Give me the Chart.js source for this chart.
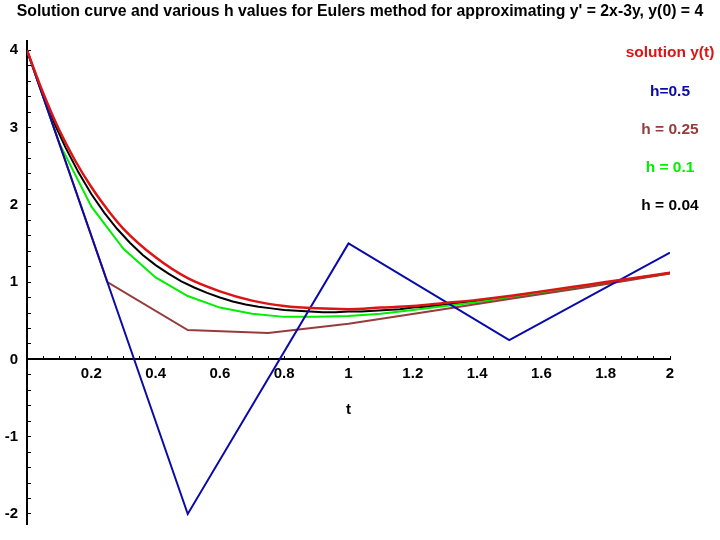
<!DOCTYPE html>
<html>
<head>
<meta charset="utf-8">
<script src="https://cdn.jsdelivr.net/npm/chart.js@4/dist/chart.umd.min.js"></script>
<style>
  html, body { margin: 0; padding: 0; background: #fff; }
  #wrap { width: 720px; height: 540px; }
</style>
</head>
<body>
<div id="wrap"><canvas id="myChart" width="720" height="540"></canvas></div>
<script>
"use strict"

// exact solution y(t)
let solT = [0, 0.05, 0.1, 0.15, 0.2, 0.25, 0.3, 0.4, 0.5, 0.6, 0.7, 0.8, 0.9, 1.0, 1.1, 1.2, 1.3, 1.4, 1.5, 1.6, 1.7, 1.8, 1.9, 2.0];
let solY = [4, 3.45, 2.97, 2.57, 2.23, 1.94, 1.69, 1.32, 1.05, 0.88, 0.76, 0.69, 0.66, 0.65, 0.67, 0.69, 0.73, 0.77, 0.82, 0.88, 0.94, 1.00, 1.06, 1.12];

// euler, h = 0.5
let h05T = [0, 0.5, 1, 1.5, 2];
let h05Y = [4, -2, 1.5, 0.25, 1.38];

// euler, h = 0.25
let h025T = [0, 0.25, 0.5, 0.75, 1, 1.25, 1.5, 1.75, 2];
let h025Y = [4, 1, 0.38, 0.34, 0.46, 0.62, 0.78, 0.94, 1.11];

// euler, h = 0.1
let h01T = [0, 0.1, 0.2, 0.3, 0.4, 0.5, 0.6, 0.7, 0.8, 0.9, 1.0, 1.1, 1.2, 1.3, 1.4, 1.5, 1.6, 1.7, 1.8, 1.9, 2.0];
let h01Y = [4, 2.8, 1.98, 1.43, 1.06, 0.82, 0.67, 0.59, 0.55, 0.55, 0.56, 0.59, 0.64, 0.69, 0.74, 0.80, 0.86, 0.92, 0.98, 1.05, 1.11];

// euler, h = 0.04
let h004T = [0, 0.04, 0.08, 0.12, 0.16, 0.2, 0.24, 0.28, 0.32, 0.36, 0.4, 0.44, 0.48, 0.52, 0.56, 0.6, 0.64, 0.68, 0.72, 0.76, 0.8,
  0.84, 0.88, 0.92, 0.96, 1.0, 1.04, 1.08, 1.12, 1.16, 1.2, 1.24, 1.28, 1.32, 1.36, 1.4, 1.44, 1.48, 1.52, 1.56, 1.6,
  1.64, 1.68, 1.72, 1.76, 1.8, 1.84, 1.88, 1.92, 1.96, 2.0];
let h004Y = [4, 3.52, 3.10, 2.74, 2.42, 2.14, 1.90, 1.69, 1.51, 1.35, 1.22, 1.11, 1.01, 0.93, 0.86, 0.80, 0.75, 0.71, 0.68, 0.66, 0.64,
  0.63, 0.62, 0.61, 0.61, 0.62, 0.62, 0.63, 0.64, 0.65, 0.67, 0.68, 0.70, 0.72, 0.74, 0.76, 0.78, 0.80, 0.82, 0.85, 0.87,
  0.89, 0.92, 0.94, 0.97, 0.99, 1.02, 1.04, 1.07, 1.09, 1.12];

// tick labels
let xTickVals = [0.2, 0.4, 0.6, 0.8, 1, 1.2, 1.4, 1.6, 1.8, 2];
let yTickVals = [-2, -1, 0, 1, 2, 3, 4];

let labels = ["solution y(t)", "h=0.5", "h = 0.25", "h = 0.1", "h = 0.04"];
let colors = ["#dc1414", "#0a0aa8", "#963c3c", "#00ee00", "#000000"];

function toPoints(ts, ys) {
    let pts = [];
    for (let i = 0; i < ts.length; i++) {
        pts.push({ x: ts[i], y: ys[i] });
    }
    return pts;
}

// minor tick positions for the axes (labels only at the major ones)
function minorTicks(from, to, step) {
    let out = [];
    let n = Math.round((to - from) / step);
    for (let i = 0; i <= n; i++) {
        out.push({ value: +(from + i * step).toFixed(4) });
    }
    return out;
}

function isMajor(v, list) {
    return list.some(m => Math.abs(m - v) < 1e-6);
}

const fontFam = "'Liberation Sans', Arial, sans-serif";

// colored text legend at the top right
const textLegend = {
    id: "textLegend",
    afterDraw(chart) {
        const ctx = chart.ctx;
        const area = chart.chartArea;
        ctx.save();
        ctx.font = "bold 15.5px " + fontFam;
        ctx.textAlign = "center";
        ctx.textBaseline = "middle";
        chart.data.datasets.forEach((ds, i) => {
            ctx.fillStyle = ds.borderColor;
            ctx.fillText(ds.label, area.right, area.top + 12 + i * 38.3);
        });
        ctx.restore();
    }
};

const seriesT = [solT, h05T, h025T, h01T, h004T];
const seriesY = [solY, h05Y, h025Y, h01Y, h004Y];

let datasets = [];
for (let i = 0; i < labels.length; i++) {
    datasets.push({
        label: labels[i],
        data: toPoints(seriesT[i], seriesY[i]),
        borderColor: colors[i],
        backgroundColor: colors[i],
        borderWidth: i === 0 ? 2.5 : 2,
        pointRadius: 0,
        showLine: true,
        tension: i === 0 ? 0.4 : 0,
        cubicInterpolationMode: i === 0 ? "monotone" : "default"
    });
}

const tickFont = { family: fontFam, size: 15, weight: "bold" };

const ctx = document.getElementById("myChart").getContext("2d");
const myChart = new Chart(ctx, {
    type: "scatter",
    data: { datasets: datasets },
    options: {
        responsive: false,
        animation: false,
        layout: { padding: { left: 0, right: 0, top: 0, bottom: 16 } },
        plugins: {
            legend: { display: false },
            tooltip: { enabled: false },
            title: {
                display: true,
                text: "Solution curve and various h values for Eulers method for approximating y' = 2x-3y, y(0) = 4",
                align: "center",
                color: "#000",
                font: { family: fontFam, size: 15.8, weight: "bold" },
                padding: { top: 2, bottom: 20 }
            }
        },
        scales: {
            x: {
                type: "linear",
                position: { y: 0 },
                min: 0,
                max: 2,
                afterBuildTicks: scale => { scale.ticks = minorTicks(0, 2, 0.05); },
                ticks: {
                    color: "#000",
                    font: tickFont,
                    padding: 9,
                    autoSkip: false,
                    maxRotation: 0,
                    callback: v => (isMajor(v, xTickVals) && v > 0 ? String(+v.toFixed(1)) : "")
                },
                // negative length puts the little tick marks on the inner side
                grid: { drawOnChartArea: false, drawTicks: true, tickLength: -4, color: "#000" },
                border: { display: true, color: "#000", width: 2 },
                title: { display: true, text: "t", color: "#000", font: tickFont, padding: { top: 9, bottom: 0 } }
            },
            y: {
                type: "linear",
                position: "left",
                min: -2.13,
                max: 4.12,
                afterFit: scale => {
                    scale.width = 27;
                    scale.paddingTop = 0;
                    scale.paddingBottom = 0;
                },
                afterBuildTicks: scale => { scale.ticks = minorTicks(-2, 4, 0.2); },
                ticks: {
                    color: "#000",
                    font: tickFont,
                    padding: 13,
                    autoSkip: false,
                    callback: v => (isMajor(v, yTickVals) ? String(Math.round(v)) : "")
                },
                grid: { drawOnChartArea: false, drawTicks: true, tickLength: -4, color: "#000" },
                border: { display: true, color: "#000", width: 2 }
            },
            // empty strip on the right, where the legend text sits
            side: {
                type: "linear",
                position: "right",
                afterFit: scale => { scale.width = 50; },
                ticks: { display: false },
                grid: { display: false },
                border: { display: false }
            }
        }
    },
    plugins: [textLegend]
});
</script>
</body>
</html>
